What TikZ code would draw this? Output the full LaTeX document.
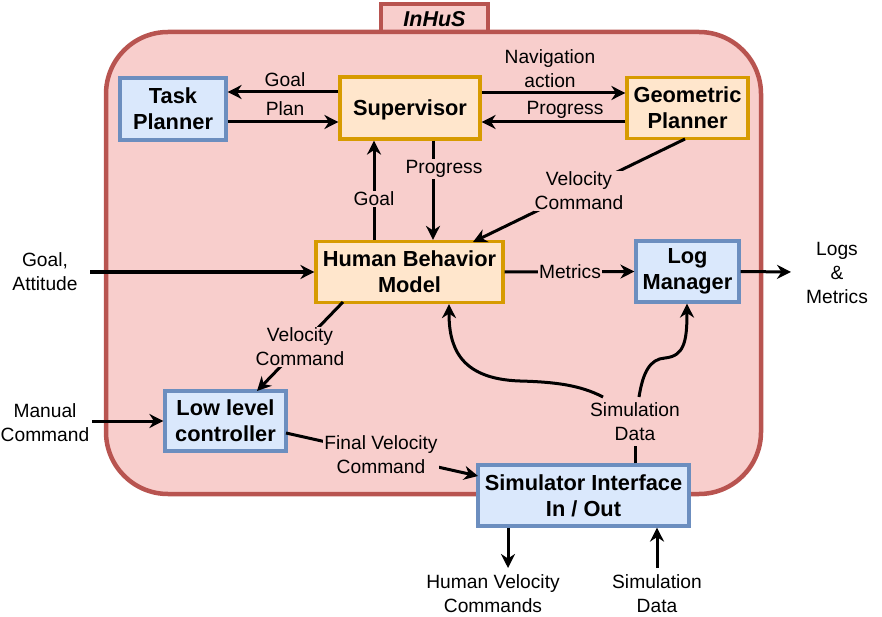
\documentclass[tikz,border=0pt]{standalone}
\usepackage{fontspec}
\setmainfont{Liberation Sans}
\usetikzlibrary{arrows.meta}
\definecolor{bluefill}{HTML}{DAE8FC}
\definecolor{bluedraw}{HTML}{6C8EBF}
\definecolor{orfill}{HTML}{FFE6CC}
\definecolor{ordraw}{HTML}{D79B00}
\definecolor{redfill}{HTML}{F8CECC}
\definecolor{reddraw}{HTML}{B85450}
\tikzset{
  boxbase/.style={draw, line width=3.2pt, align=center, inner sep=0pt,
     font=\fontsize{21.8}{26}\selectfont\bfseries},
  bluebox/.style={boxbase, fill=bluefill, draw=bluedraw},
  orbox/.style={boxbase, fill=orfill, draw=ordraw},
  lbl/.style={align=center, inner sep=1pt, font=\fontsize{19.2}{24}\selectfont},
  onlbl/.style={lbl, fill=redfill},
  arr/.style={line width=3pt, -{Stealth[length=14pt,width=14pt,inset=4.5pt]}},
  ln/.style={line width=3pt}
}
\begin{document}
\begin{tikzpicture}[x=1pt,y=-1pt]
\useasboundingbox (0,0) rectangle (882,617);
% container
\draw[line width=4.5pt, draw=reddraw, fill=redfill] (381,4) rectangle (488,40);
\node[font=\fontsize{21.5}{26}\selectfont\bfseries\itshape] (tab) at (434.5,19) {InHuS};
\draw[line width=4.5pt, draw=reddraw, fill=redfill, rounded corners=62pt] (106,32) rectangle (761,494);

% nodes
\node[bluebox, minimum width=106pt, minimum height=62pt] (tp) at (173,109) {Task\\Planner};
\node[orbox, minimum width=140pt, minimum height=62pt] (sup) at (410,108) {\raisebox{0pt}[15.5pt][0pt]{Supervisor}};
\node[orbox, minimum width=121pt, minimum height=61pt] (geo) at (687.5,108) {Geometric\\Planner};
\node[orbox, minimum width=187pt, minimum height=61pt] (hbm) at (409.5,272) {Human Behavior\\Model};
\node[bluebox, minimum width=103pt, minimum height=61pt] (log) at (687.5,271.5) {Log\\Manager};
\node[bluebox, minimum width=121pt, minimum height=60pt] (llc) at (225.5,421) {Low level\\controller};
\node[bluebox, minimum width=211pt, minimum height=61pt] (sim) at (583.5,495.5) {Simulator Interface\\In / Out};

% outside texts
\node[lbl] (goalatt) at (45,272) {Goal,\\Attitude};
\node[lbl] (manual) at (45,423) {Manual\\Command};
\node[lbl] (logsout) at (837,273) {Logs\\\&\\Metrics};
\node[lbl] (hvc) at (493,594) {Human Velocity\\Commands};
\node[lbl] (simout) at (657,594) {Simulation\\Data};
\coordinate (goalattE) at (90,272);
\coordinate (manualE) at (92,421);
\coordinate (logsW) at (791,272);
\coordinate (hvcN) at (508,568);
\coordinate (simoutN) at (657,568);

% top edges
\draw[arr] ([yshift=16pt]sup.west) -- ([yshift=16pt]tp.east |- sup.west);
\draw[arr] ([yshift=-14pt]tp.east |- sup.west) -- ([yshift=-14pt]sup.west);
\node[lbl] (lgoal) at (285,80) {Goal};
\node[lbl] (lplan) at (285,109) {Plan};
\draw[arr] ([yshift=15pt]sup.east) -- ([yshift=15pt]geo.west);
\draw[arr] ([yshift=-14pt]geo.west) -- ([yshift=-14pt]sup.east);
\node[lbl] (lnav) at (550,69) {Navigation\\action};
\node[lbl] (lprog) at (565,110) {Progress};

% supervisor <-> hbm
\draw[arr] (hbm.north -| 374,0) -- (sup.south -| 374,0);
\node[onlbl] (lgoal2) at (374,199) {Goal};
\draw[arr] (sup.south -| 433,0) -- (hbm.north -| 433,0);
\node[onlbl] (lprog2) at (444,169) {Progress};

% geo -> hbm
\coordinate (geoS) at (685,139);
\coordinate (hbmNE) at (473,242);
\draw[arr] (geoS) -- (hbmNE);
\node[onlbl] (lvel1) at (579,191) {Velocity\\Command};

% in/out
\draw[arr] (goalattE) -- (hbm.west);
\draw[arr] (hbm.east) -- (log.west);
\node[onlbl] (lmet) at (570,272) {Metrics};
\draw[arr] (log.east) -- (logsW);
\draw[arr] (manualE) -- (llc.west);

% hbm -> llc
\coordinate (hbmSW) at (343,302);
\coordinate (llcN) at (257,391);
\draw[arr] (hbmSW) -- (llcN);
\node[onlbl] (lvel2) at (300,347) {Velocity\\Command};

% llc -> sim
\coordinate (llcE) at (286,433);
\coordinate (simW) at (478,476);
\draw[arr] (llcE) -- (simW);
\node[onlbl] (lfin) at (381,455) {Final Velocity\\Command};

% sim outputs
\draw[arr] (sim.south -| hvcN) -- (hvcN);
\draw[arr] (simoutN) -- (sim.south -| simoutN);

% simulation data curves
\node[lbl] (lsim) at (635,422) {Simulation\\Data};
\draw[ln] (sim.north -| 635,0) -- (635,446);
\draw[arr] (603,397) .. controls (580,385) and (555,382) .. (520,381) .. controls (458,379) and (449,345) .. (hbm.south -| 449,0);
\draw[arr] (639,397) .. controls (643,372) and (650,359) .. (665,358) .. controls (684,356) and (687,342) .. (log.south -| 687,0);
\end{tikzpicture}
\end{document}
